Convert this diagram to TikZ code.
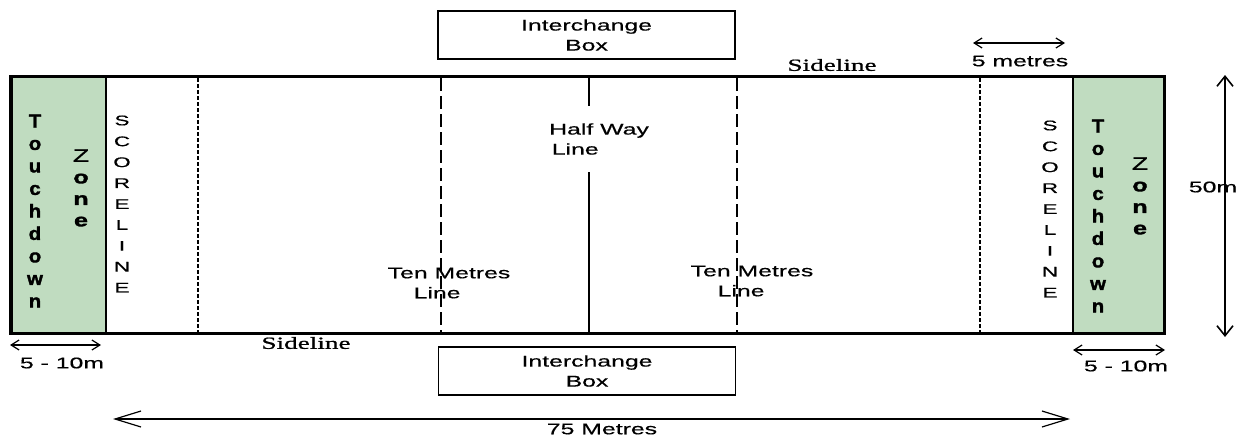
\documentclass[tikz,border=0pt]{standalone}
\usepackage{fontspec}
\setmainfont{Liberation Sans}[FakeStretch=1.6,FakeBold=0.5]
\newfontfamily\tdfont{Liberation Sans}[FakeStretch=1.1,FakeBold=1.8]
\newfontfamily\zofont{Liberation Sans}[FakeStretch=1.4,FakeBold=1.8]
\newfontfamily\zfont{Liberation Sans}[FakeStretch=1.5,FakeBold=0.5]
\newfontfamily\sidefont{Liberation Serif}[FakeStretch=1.6,FakeBold=1]
\usetikzlibrary{arrows.meta}
\definecolor{tdgreen}{RGB}{192,220,192}
\tikzset{
  lbl/.style={font=\fontsize{15.5}{20}\selectfont, inner sep=0pt, align=center},
  stackl/.style={font=\fontsize{14}{20.9}\selectfont, inner sep=0pt, align=center},
  tdl/.style={font=\tdfont\bfseries\fontsize{18.5}{22.5}\selectfont, inner sep=0pt, align=center},
  zol/.style={font=\zofont\bfseries\fontsize{18}{21.5}\selectfont, inner sep=0pt, align=center},
  sidel/.style={font=\sidefont\fontsize{17}{20}\selectfont, inner sep=0pt},
  ibox/.style={draw, line width=1.2pt, minimum width=297pt, minimum height=48pt, inner sep=0pt, align=center, font=\fontsize{15.5}{20}\selectfont},
  dimarrow/.style={line width=1.2pt, {Straight Barb[length=8pt,width=10pt]}-{Straight Barb[length=8pt,width=10pt]}},
  bigarrow/.style={line width=1.2pt, {Straight Barb[length=26pt,width=16pt]}-{Straight Barb[length=26pt,width=16pt]}},
  vertarrow/.style={line width=1.6pt, {Straight Barb[length=10pt,width=16pt]}-{Straight Barb[length=10pt,width=16pt]}},
  tenline/.style={line width=2pt, dash pattern=on 13pt off 5pt},
  scoreline/.style={line width=2.5pt, dash pattern=on 3.5pt off 2.5pt},
}
\begin{document}
\begin{tikzpicture}[x=1pt,y=-1pt]
\useasboundingbox (0,0) rectangle (1241,437);
% touchdown zones
\fill[tdgreen] (10,76) rectangle (106,333);
\fill[tdgreen] (1073,76) rectangle (1164,333);
% field outline
\draw[line width=3pt] (10,76) rectangle (1164,333);
\draw[line width=4.5pt] (11,76) -- (11,333);
\draw[line width=2pt] (106,76) -- (106,333);
\draw[line width=2pt] (1073,76) -- (1073,333);
% score lines
\draw[scoreline] (198,78) -- (198,332);
\draw[scoreline] (980,78) -- (980,332);
% half way line
\draw[line width=2pt] (589,76) -- (589,333);
\node[lbl, align=left, anchor=west, fill=white, minimum height=66pt] (hw) at (549,139) {Half Way\\\,Line};
% ten metres texts and lines
\node[lbl, align=left] (tml) at (449,283) {Ten Metres\\\hspace*{26pt}Line};
\node[lbl, align=left] (tmr) at (752,281) {Ten Metres\\\hspace*{27pt}Line};
\draw[tenline] (441,78) -- (441,333);
\draw[tenline] (737,78) -- (737,333);
% vertical texts
\node[stackl] (scl) at (122,204) {S\\C\\O\\R\\E\\L\\I\\N\\E};
\node[stackl] (scr) at (1050,209) {S\\C\\O\\R\\E\\L\\I\\N\\E};
\node[tdl] (tdl1) at (35,211) {T\\o\\u\\c\\h\\d\\o\\w\\n};
\node[tdl] (tdr1) at (1098,216) {T\\o\\u\\c\\h\\d\\o\\w\\n};
\node[zol] (zl) at (81,188) {{\zfont\mdseries Z}\\o\\n\\e};
\node[zol] (zr) at (1140,196) {{\zfont\mdseries Z}\\o\\n\\e};
% interchange boxes
\node[ibox] (ibt) at (586.5,35) {Interchange\\Box};
\node[ibox] (ibb) at (587,371) {Interchange\\Box};
% sidelines
\node[sidel] (sdt) at (832,65) {Sideline};
\node[sidel] (sdb) at (306,343) {Sideline};
% dimension arrows
\coordinate (l1) at (10,345); \coordinate (l2) at (101,345);
\draw[dimarrow] (l1) -- (l2);
\node[lbl] (lt) at (62,363) {5 - 10m};
\coordinate (r1) at (1073,350); \coordinate (r2) at (1165,350);
\draw[dimarrow] (r1) -- (r2);
\node[lbl] (rt) at (1126,366) {5 - 10m};
\coordinate (m1) at (973,43); \coordinate (m2) at (1065,43);
\draw[dimarrow] (m1) -- (m2);
\node[lbl] (mt) at (1020,61) {5 metres};
\node[lbl] (ft) at (1213,187) {50m};
\coordinate (v1) at (1225,75); \coordinate (v2) at (1225,337);
\draw[vertarrow] (v1) -- (v2);
\coordinate (h1) at (113,419); \coordinate (h2) at (1070,419);
\draw[bigarrow] (h1) -- (h2);
\node[lbl] (st) at (602,429) {75 Metres};
\end{tikzpicture}
\end{document}
